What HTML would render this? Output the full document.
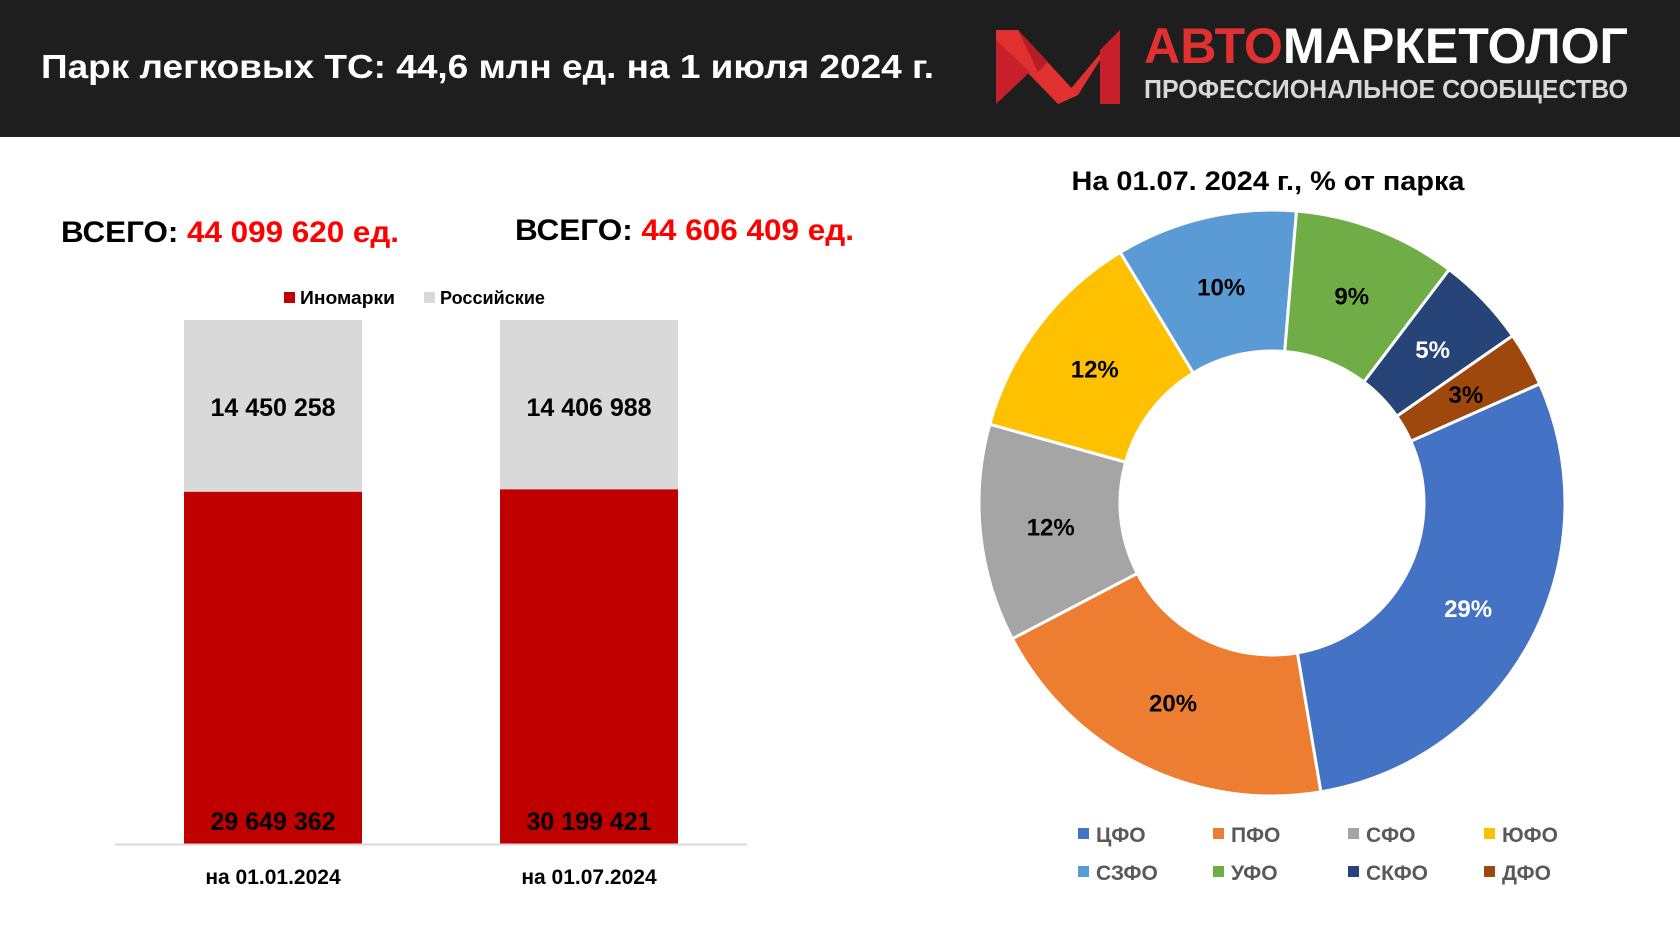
<!DOCTYPE html>
<html><head><meta charset="utf-8"><style>
body{margin:0;width:1680px;height:945px;background:#fff;overflow:hidden;font-family:"Liberation Sans",sans-serif}
svg text{font-family:"Liberation Sans",sans-serif;font-weight:bold}
</style></head><body>
<svg width="1680" height="945" viewBox="0 0 1680 945" xmlns="http://www.w3.org/2000/svg">
<rect x="0" y="0" width="1680" height="137" fill="#1e1e1e"/>
<text x="41" y="78" font-size="33" fill="#fff" textLength="893" lengthAdjust="spacingAndGlyphs">Парк легковых ТС: 44,6 млн ед.  на 1 июля 2024 г.</text>
<g>
<polygon points="996,30 1018,30 1078,95 1058,104 996,40" fill="#e03030"/>
<polygon points="996,40 1030,72 996,104" fill="#c8202a"/>
<polygon points="1018,30 1048,62 1038,72" fill="#b81c24"/>
<polygon points="1058,104 1120,30 1120,104 1100,104 1100,60 1078,95" fill="#e03030"/>
<polygon points="1120,30 1100,50 1100,104 1120,104" fill="#c8202a"/>
</g>
<text x="1144" y="63" font-size="50" textLength="484" lengthAdjust="spacingAndGlyphs"><tspan fill="#e03030">АВТО</tspan><tspan fill="#fff">МАРКЕТОЛОГ</tspan></text>
<text x="1144" y="98" font-size="26" fill="#d8d8d8" textLength="484" lengthAdjust="spacingAndGlyphs">ПРОФЕССИОНАЛЬНОЕ СООБЩЕСТВО</text>

<text x="61" y="242" font-size="30" fill="#000" textLength="338" lengthAdjust="spacingAndGlyphs">ВСЕГО: <tspan fill="#ff0000">44 099 620 ед.</tspan></text>
<text x="515" y="240" font-size="30" fill="#000" textLength="339" lengthAdjust="spacingAndGlyphs">ВСЕГО: <tspan fill="#ff0000">44 606 409 ед.</tspan></text>

<g>
<rect x="284" y="292" width="11" height="11" fill="#c00000"/>
<text x="300" y="304" font-size="18" fill="#000" textLength="95" lengthAdjust="spacingAndGlyphs">Иномарки</text>
<rect x="424" y="292" width="11" height="11" fill="#d9d9d9"/>
<text x="440" y="304" font-size="18" fill="#000" textLength="105" lengthAdjust="spacingAndGlyphs">Российские</text>
</g>
<g id="bars"></g>
<line x1="115" y1="844.5" x2="747" y2="844.5" stroke="#d9d9d9" stroke-width="2"/>

<text x="1268" y="190" font-size="27" fill="#000" text-anchor="middle" textLength="393" lengthAdjust="spacingAndGlyphs">На 01.07. 2024 г., % от парка</text>
<g id="pie"></g>
<g id="pielegend"></g>
</svg>
<script>
const categories=["на 01.01.2024","на 01.07.2024"];
const foreign=[29649362,30199421];
const russian=[14450258,14406988];
const regions=["ЦФО","ПФО","СФО","ЮФО","СЗФО","УФО","СКФО","ДФО"];
const shares=[29,20,12,12,10,9,5,3];
const colors=["#4472c4","#ed7d31","#a5a5a5","#ffc000","#5b9bd5","#70ad47","#264478","#9e480e"];
const labelColors=["#fff","#000","#000","#000","#000","#000","#fff","#000"];
const NS="http://www.w3.org/2000/svg";
function mk(tag,attrs,parent,text){const e=document.createElementNS(NS,tag);for(const k in attrs)e.setAttribute(k,attrs[k]);if(text!==undefined)e.textContent=text;parent.appendChild(e);return e;}
const fmt=v=>String(v).replace(/\B(?=(\d{3})+(?!\d))/g," ");
const bars=document.getElementById('bars');
const yTop=320,yBot=844,bw=178;
const xc=i=>273+i*316;
const yScale=f=>yBot-f*(yBot-yTop);
categories.forEach((c,i)=>{
  const tot=foreign[i]+russian[i];
  const yb=yScale(foreign[i]/tot);
  let r=mk('rect',{x:xc(i)-bw/2,y:yb,width:bw,height:yBot-yb,fill:'#c00000'},bars);
  
  
  let r2=mk('rect',{x:xc(i)-bw/2,y:yTop,width:bw,height:yb-yTop,fill:'#d9d9d9'},bars);
  
  
  let t1=mk('text',{x:xc(i),y:yTop+96,'font-size':25,'text-anchor':'middle',fill:'#000'},bars,fmt(russian[i]));
  
  
  let t2=mk('text',{x:xc(i),y:yBot-14,'font-size':25,'text-anchor':'middle',fill:'#000'},bars,fmt(foreign[i]));
  
  
  let t3=mk('text',{x:xc(i),y:884,'font-size':21,'text-anchor':'middle',fill:'#000'},bars,c);
  
  
});
const pie=document.getElementById('pie');
const cx=1272,cy=503,R=293,r0=152,start=66;
const total=shares.reduce((a,b)=>a+b,0);
const pt=(ang,rad)=>{const a=(ang-90)*Math.PI/180;return [cx+rad*Math.cos(a),cy+rad*Math.sin(a)];};
let ang=start;
shares.forEach((v,i)=>{
  const sweep=v/total*360,a2=ang+sweep,lg=sweep>180?1:0;
  const [x1,y1]=pt(ang,R),[x2,y2]=pt(a2,R),[x3,y3]=pt(a2,r0),[x4,y4]=pt(ang,r0);
  const p=mk('path',{d:`M${x1},${y1}A${R},${R} 0 ${lg} 1 ${x2},${y2}L${x3},${y3}A${r0},${r0} 0 ${lg} 0 ${x4},${y4}Z`,fill:colors[i],stroke:'#fff','stroke-width':3},pie);
  
  
  const [lx,ly]=pt(ang+sweep/2,(R+r0)/2);
  const t=mk('text',{x:lx,y:ly+9,'font-size':24,'text-anchor':'middle',fill:labelColors[i]},pie,v+'%');
  
  
  ang=a2;
});
const lg=document.getElementById('pielegend');
const colX=[1078,1213,1348,1484];
regions.forEach((n,i)=>{
  const x=colX[i%4],y=i<4?834:872;
  const s=mk('rect',{x:x,y:y-6,width:11,height:11,fill:colors[i]},lg);
  
  
  const t=mk('text',{x:x+18,y:y+8,'font-size':21,fill:'#595959'},lg,n);
  
  
});
</script>
</body></html>
